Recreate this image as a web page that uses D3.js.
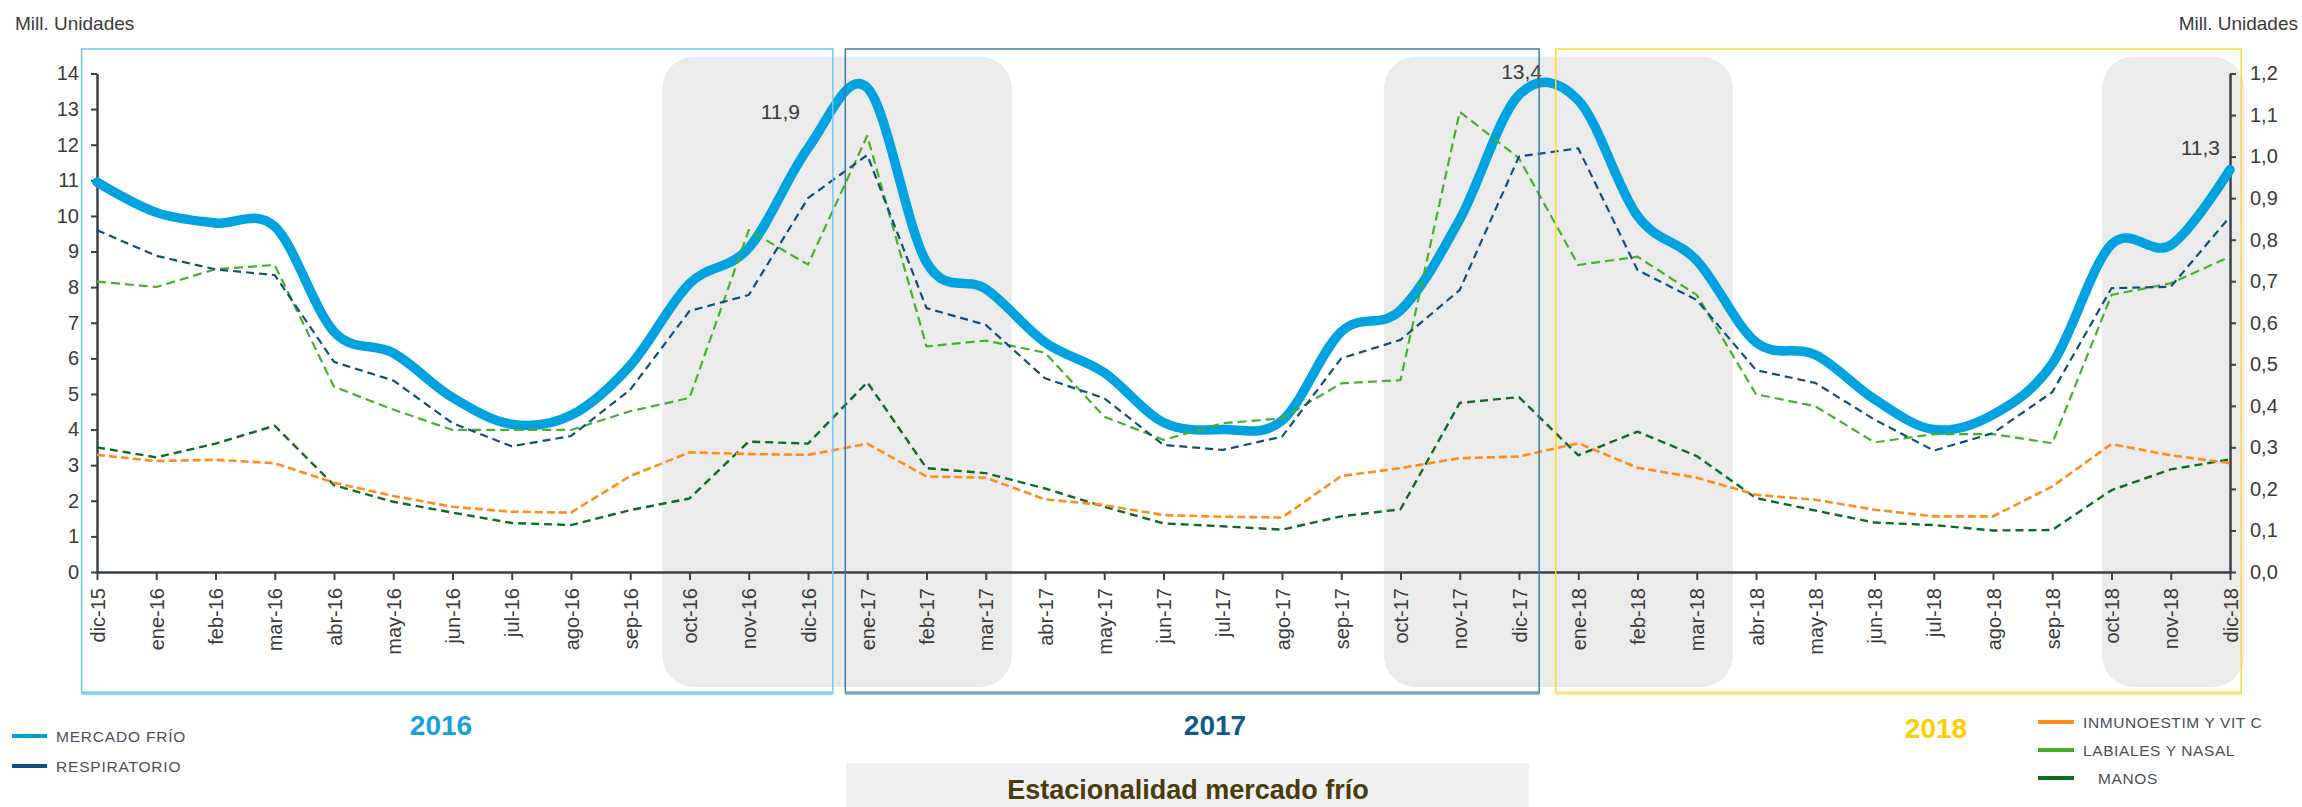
<!DOCTYPE html>
<html>
<head>
<meta charset="utf-8">
<script src="https://cdn.jsdelivr.net/npm/d3@7"></script>
<style>
  html, body { margin: 0; padding: 0; background: #ffffff; }
  svg { display: block; font-family: "Liberation Sans", Arial, sans-serif; }
</style>
</head>
<body>
<svg id="chart" width="2302" height="807"></svg>
<script>
// ---- data -------------------------------------------------------------
const months = ["dic-15","ene-16","feb-16","mar-16","abr-16","may-16","jun-16","jul-16","ago-16","sep-16","oct-16","nov-16",
  "dic-16","ene-17","feb-17","mar-17","abr-17","may-17","jun-17","jul-17","ago-17","sep-17","oct-17","nov-17",
  "dic-17","ene-18","feb-18","mar-18","abr-18","may-18","jun-18","jul-18","ago-18","sep-18","oct-18","nov-18","dic-18"];

// left axis (millones de unidades)
const mercadoFrio = [10.95,10.1,9.8,9.7,6.75,6.15,4.9,4.15,4.4,5.8,8.1,9.1,
  11.9,13.6,8.7,7.95,6.45,5.6,4.2,4.0,4.25,6.75,7.35,9.9,
  13.4,13.25,10.0,8.75,6.45,6.1,4.85,4.0,4.42,5.85,9.2,9.18,11.3];
const respiratorio = [9.6,8.88,8.5,8.34,5.9,5.38,4.18,3.53,3.82,5.12,7.33,7.78,
  10.5,11.71,7.41,6.94,5.44,4.88,3.57,3.43,3.8,6.0,6.52,7.92,
  11.67,11.9,8.48,7.64,5.67,5.31,4.28,3.41,3.9,5.05,7.97,8.01,9.98];

// right axis (millones de unidades)
const inmunoestim = [0.282,0.267,0.270,0.262,0.215,0.183,0.157,0.145,0.143,0.231,0.288,0.284,
  0.282,0.309,0.230,0.227,0.175,0.161,0.137,0.133,0.131,0.231,0.250,0.274,
  0.278,0.310,0.251,0.227,0.186,0.174,0.150,0.134,0.134,0.206,0.308,0.281,0.262];
const labialesNasal = [0.699,0.686,0.729,0.739,0.446,0.391,0.342,0.342,0.342,0.387,0.419,0.823,
  0.740,1.050,0.543,0.557,0.528,0.374,0.318,0.358,0.370,0.454,0.462,1.108,
  0.996,0.739,0.759,0.667,0.428,0.399,0.312,0.332,0.332,0.310,0.667,0.695,0.759];
const manos = [0.300,0.276,0.309,0.352,0.209,0.169,0.143,0.118,0.113,0.149,0.177,0.314,
  0.309,0.457,0.250,0.238,0.201,0.157,0.117,0.110,0.102,0.134,0.151,0.407,
  0.421,0.281,0.338,0.279,0.178,0.148,0.119,0.113,0.100,0.101,0.197,0.247,0.271];

const leftTicks = [0,1,2,3,4,5,6,7,8,9,10,11,12,13,14];
const rightTicks = [0,0.1,0.2,0.3,0.4,0.5,0.6,0.7,0.8,0.9,1.0,1.1,1.2];
const years = ["2016","2017","2018"];
const labelledMonths = ["dic-16","dic-17","dic-18"];
const axisTitle = "Mill. Unidades";
const chartTitle = "Estacionalidad mercado frío";

const seriesNames = {
  mercado: "MERCADO FRÍO",
  resp: "RESPIRATORIO",
  inmuno: "INMUNOESTIM Y VIT C",
  labiales: "LABIALES Y NASAL",
  manos: "MANOS"
};

// ---- layout -----------------------------------------------------------
const colors = {
  mercado: "#00a3df",
  resp: "#0f4f7c",
  inmuno: "#ff8c1a",
  labiales: "#45b02c",
  manos: "#0d6b22",
  text: "#3a3a3a",
  axis: "#3a4048",
  shade: "#ebebeb"
};

const svg = d3.select("#chart");
const x = d3.scaleLinear().domain([0, months.length - 1]).range([97, 2230]);
const yL = d3.scaleLinear().domain([0, 14]).range([572, 73.5]);
const yR = d3.scaleLinear().domain([0, 1.2]).range([572, 73.5]);
const fmt1 = v => d3.format(".1f")(v).replace(".", ",");

// grey seasonal bands (oct–mar), in month-index units
const seasons = [[9.54, 15.44], [21.72, 27.61], [33.84, 36.24]];
svg.append("g").selectAll("rect").data(seasons).join("rect")
  .attr("x", d => x(d[0]))
  .attr("width", d => x(d[1]) - x(d[0]))
  .attr("y", 56.5)
  .attr("height", 687 - 56.5)
  .attr("rx", 32).attr("ry", 32)
  .attr("fill", colors.shade);

// ---- axes -------------------------------------------------------------
const gL = svg.append("g").attr("transform", `translate(${x(0)},0)`)
  .call(d3.axisLeft(yL).tickValues(leftTicks).tickFormat(d3.format("d"))
    .tickSize(6).tickSizeOuter(0).tickPadding(12));
const gR = svg.append("g").attr("transform", `translate(${x(months.length - 1)},0)`)
  .call(d3.axisRight(yR).tickValues(rightTicks).tickFormat(fmt1)
    .tickSize(6).tickSizeOuter(0).tickPadding(14));
const gB = svg.append("g").attr("transform", `translate(0,${yL(0)})`)
  .call(d3.axisBottom(x).tickValues(d3.range(months.length)).tickFormat(i => months[i])
    .tickSize(8).tickSizeOuter(0));

[gL, gR, gB].forEach(g => {
  g.select(".domain").attr("stroke", colors.axis).attr("stroke-width", 2.5);
  g.selectAll(".tick line").attr("stroke", colors.axis).attr("stroke-width", 2);
  g.selectAll(".tick text").attr("fill", colors.text)
    .style("font-family", '"Liberation Sans", Arial, sans-serif')
    .style("font-size", "20px");
});
gB.selectAll(".tick text")
  .attr("transform", "rotate(-90)")
  .attr("text-anchor", "end")
  .attr("x", -16).attr("y", 0).attr("dy", "0.36em");

// axis titles
svg.append("text").attr("x", 15).attr("y", 30).attr("fill", colors.text)
  .style("font-size", "19px").text(axisTitle);
svg.append("text").attr("x", 2298).attr("y", 30).attr("text-anchor", "end").attr("fill", colors.text)
  .style("font-size", "19px").text(axisTitle);

// ---- lines ------------------------------------------------------------
const smoothLine = d3.line().x((d, i) => x(i)).y(d => yL(d)).curve(d3.curveCardinal.tension(0));
const lineL = d3.line().x((d, i) => x(i)).y(d => yL(d));
const lineR = d3.line().x((d, i) => x(i)).y(d => yR(d));

const plot = svg.append("g").attr("fill", "none").attr("stroke-linejoin", "round");
plot.append("path").attr("d", smoothLine(mercadoFrio))
  .attr("stroke", colors.mercado).attr("stroke-width", 9.5).attr("stroke-linecap", "round");
plot.append("path").attr("d", lineR(manos))
  .attr("stroke", colors.manos).attr("stroke-width", 2.4).attr("stroke-dasharray", "8,5");
plot.append("path").attr("d", lineR(inmunoestim))
  .attr("stroke", colors.inmuno).attr("stroke-width", 2.6).attr("stroke-dasharray", "8,4");
plot.append("path").attr("d", lineR(labialesNasal))
  .attr("stroke", colors.labiales).attr("stroke-width", 2.2).attr("stroke-dasharray", "9,5");
plot.append("path").attr("d", lineL(respiratorio))
  .attr("stroke", colors.resp).attr("stroke-width", 2.2).attr("stroke-dasharray", "8,5");

// value labels on mercado frío peaks
const labelOffsets = { "dic-16": [-8, -29], "dic-17": [23, -16], "dic-18": [-10, -15] };
svg.append("g").selectAll("text").data(labelledMonths).join("text")
  .attr("x", m => x(months.indexOf(m)) + labelOffsets[m][0])
  .attr("y", m => yL(mercadoFrio[months.indexOf(m)]) + labelOffsets[m][1])
  .attr("text-anchor", "end")
  .attr("fill", colors.text)
  .style("font-size", "21px")
  .text(m => fmt1(mercadoFrio[months.indexOf(m)]));

// ---- year frames ------------------------------------------------------
const frames = [
  { year: years[0], from: -0.26, to: 12.42, stroke: "#6ccaf0", bottom: "#7fd2f2", color: "#14a1dc", tx: 441, ty: 735 },
  { year: years[1], from: 12.63, to: 24.34, stroke: "#3e7ca6", bottom: "#7fa3bd", color: "#0d5a8b", tx: 1215, ty: 735 },
  { year: years[2], from: 24.62, to: 36.19, stroke: "#ffd92e", bottom: "#ffe27a", color: "#ffcc00", tx: 1936, ty: 738 }
];
const fg = svg.append("g");
frames.forEach(f => {
  fg.append("rect")
    .attr("x", x(f.from)).attr("y", 49)
    .attr("width", x(f.to) - x(f.from)).attr("height", 693 - 49)
    .attr("fill", "none").attr("stroke", f.stroke).attr("stroke-width", 1.5);
  fg.append("line")
    .attr("x1", x(f.from)).attr("x2", x(f.to)).attr("y1", 693).attr("y2", 693)
    .attr("stroke", f.bottom).attr("stroke-width", 3.5);
  fg.append("text")
    .attr("x", f.tx).attr("y", f.ty).attr("text-anchor", "middle")
    .attr("fill", f.color).style("font-size", "28px").style("font-weight", "bold")
    .text(f.year);
});

// ---- legends ----------------------------------------------------------
const legendLeft = [
  { key: "mercado", y: 736, tx: 56 },
  { key: "resp", y: 766, tx: 56 }
];
const legendRight = [
  { key: "inmuno", y: 722, tx: 2083 },
  { key: "labiales", y: 750, tx: 2083 },
  { key: "manos", y: 778, tx: 2098 }
];
const lg = svg.append("g");
legendLeft.forEach(d => {
  lg.append("line").attr("x1", 12).attr("x2", 47).attr("y1", d.y).attr("y2", d.y)
    .attr("stroke", colors[d.key]).attr("stroke-width", 4);
  lg.append("text").attr("x", d.tx).attr("y", d.y).attr("dy", "0.36em")
    .attr("fill", "#4a4f55").style("font-size", "15.5px").style("letter-spacing", "0.8px")
    .text(seriesNames[d.key]);
});
legendRight.forEach(d => {
  lg.append("line").attr("x1", 2038).attr("x2", 2074).attr("y1", d.y).attr("y2", d.y)
    .attr("stroke", colors[d.key]).attr("stroke-width", 4);
  lg.append("text").attr("x", d.tx).attr("y", d.y).attr("dy", "0.36em")
    .attr("fill", "#4a4f55").style("font-size", "15.5px").style("letter-spacing", "0.6px")
    .text(seriesNames[d.key]);
});

// ---- title box --------------------------------------------------------
svg.append("rect").attr("x", 846).attr("y", 763).attr("width", 683).attr("height", 60)
  .attr("fill", "#f0f0f0");
svg.append("text").attr("x", 1188).attr("y", 799).attr("text-anchor", "middle")
  .attr("fill", "#4a3b0c").style("font-size", "27px").style("font-weight", "bold")
  .text(chartTitle);
</script>
</body>
</html>
